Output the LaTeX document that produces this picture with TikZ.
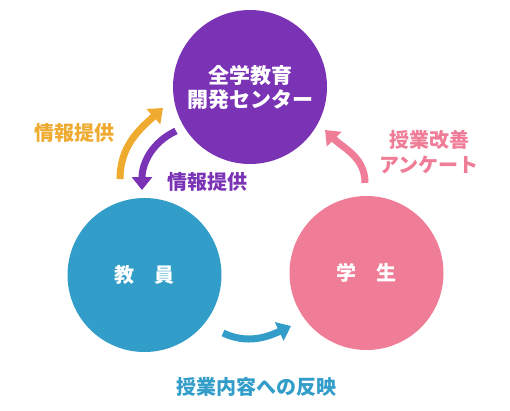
\documentclass[tikz,border=0pt]{standalone}
\usepackage{fontspec}
\newfontfamily\jp{Noto Sans CJK JP}
\usetikzlibrary{arrows.meta}
\definecolor{cpurple}{HTML}{7B33B6}
\definecolor{cblue}{HTML}{329DC8}
\definecolor{cpink}{HTML}{EF7D97}
\definecolor{corange}{HTML}{EFAB30}
\tikzset{
  circ/.style={circle, minimum size=154pt, inner sep=0pt, fill=#1, text=white, font=\jp\bfseries\fontsize{20}{24}\selectfont, align=center},
  lbl/.style={text=#1, font=\jp\bfseries\fontsize{20}{25}\selectfont, align=center, inner sep=0pt},
  flow/.style={draw=#1, line width=7pt, -{Triangle[width=20pt,length=13pt]}}
}
\begin{document}
\begin{tikzpicture}[x=1pt,y=-1pt]
\useasboundingbox (0,0) rectangle (510,410);
\node[circ=cpurple, font=\jp\bfseries\fontsize{21}{24}\selectfont] (center) at (250,87) {全学教育\\開発センター};
\node[circ=cblue] (faculty) at (144.5,275) {教　員};
\node[circ=cpink] (student) at (366.5,273) {学　生};
\node[lbl=corange] (l1) at (74,133) {情報提供};
\node[lbl=cpurple] (l2) at (207,182) {情報提供};
\node[lbl=cpink] (l3) at (429,152) {授業改善\\アンケート};
\node[lbl=cblue] (l4) at (256,387) {授業内容への反映};
\coordinate (o1) at (120,179);
\coordinate (o2) at (163,108);
\coordinate (p1) at (176,131);
\coordinate (p2) at (142,190);
\coordinate (k1) at (365,183);
\coordinate (k2) at (325,130);
\coordinate (b1) at (223,333);
\coordinate (b2) at (291,326);
\draw[flow=corange] (o1) to[out=90,in=222] (o2);
\draw[flow=cpurple] (p1) to[out=205,in=90] (p2);
\draw[flow=cpink] (k1) to[out=90,in=-45] (k2);
\draw[flow=cblue] (b1) to[out=-25,in=205] (b2);
\end{tikzpicture}
\end{document}
